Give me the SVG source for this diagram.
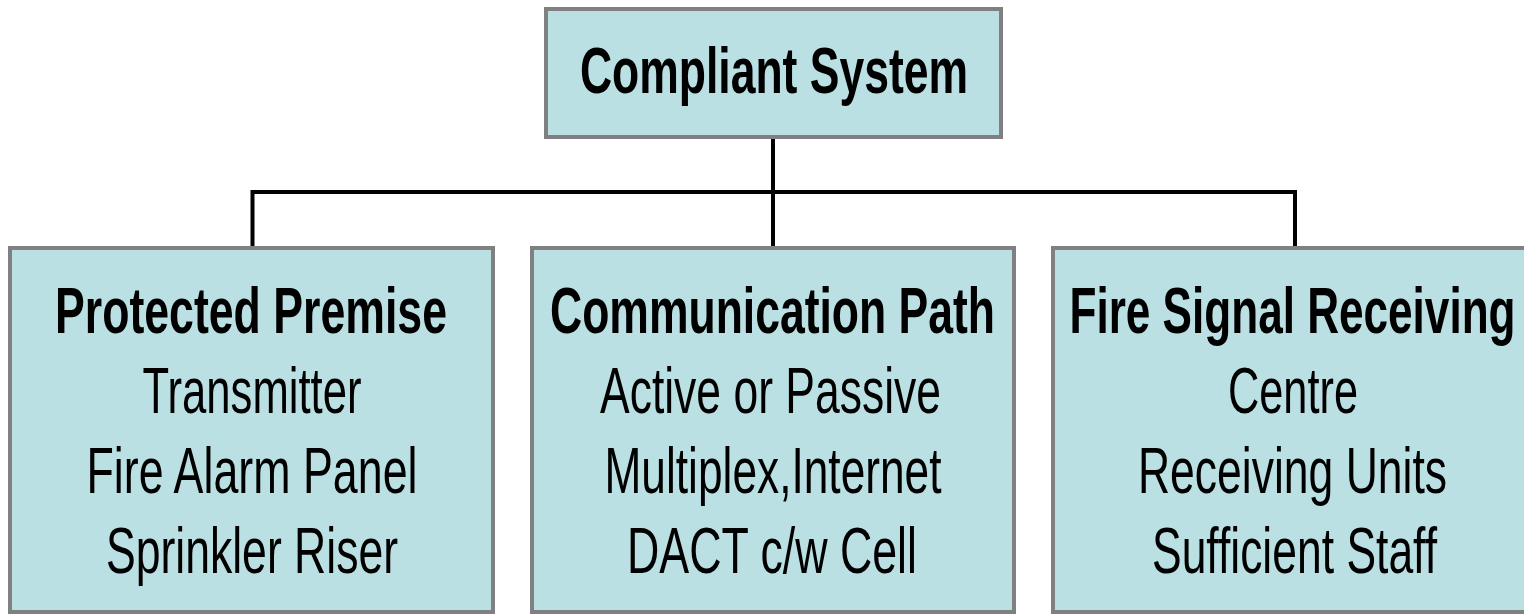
<svg xmlns="http://www.w3.org/2000/svg" width="1524" height="614" viewBox="0 0 1524 614">
<style>
.box{fill:#BAE0E3;stroke:#808080;stroke-width:4}
.t{font-family:"Liberation Sans Narrow","Liberation Sans",Arial,sans-serif;font-size:64px;fill:#000;text-anchor:middle}
.b{font-weight:bold}
.c{fill:none;stroke:#000;stroke-width:4}
</style>
<rect width="1524" height="614" fill="#fff"/>
<g id="connectors">
<path class="c" d="M773 137 V247"/>
<path class="c" d="M252.5 247 V192 H1295 V247"/>
</g>
<g id="root">
<rect class="box" x="546" y="9" width="455" height="128"/>
<text class="t b" x="774" y="93" textLength="388" lengthAdjust="spacingAndGlyphs">Compliant System</text>
</g>
<g id="premise">
<rect class="box" x="10" y="248" width="483" height="364"/>
<text class="t b" x="251" y="333" textLength="392" lengthAdjust="spacingAndGlyphs">Protected Premise</text>
<text class="t" x="252" y="413" textLength="219" lengthAdjust="spacingAndGlyphs">Transmitter</text>
<text class="t" x="252" y="493" textLength="331" lengthAdjust="spacingAndGlyphs">Fire Alarm Panel</text>
<text class="t" x="252" y="573" textLength="292" lengthAdjust="spacingAndGlyphs">Sprinkler Riser</text>
</g>
<g id="path">
<rect class="box" x="532" y="248" width="482" height="364"/>
<text class="t b" x="772.5" y="333" textLength="445" lengthAdjust="spacingAndGlyphs">Communication Path</text>
<text class="t" x="770.5" y="413" textLength="341" lengthAdjust="spacingAndGlyphs">Active or Passive</text>
<text class="t" x="773" y="493" textLength="337" lengthAdjust="spacingAndGlyphs">Multiplex,Internet</text>
<text class="t" x="772" y="573" textLength="290" lengthAdjust="spacingAndGlyphs">DACT c/w Cell</text>
</g>
<g id="receiving">
<rect class="box" x="1053" y="248" width="482" height="364"/>
<text class="t b" x="1292.5" y="333" textLength="446" lengthAdjust="spacingAndGlyphs">Fire Signal Receiving</text>
<text class="t" x="1293" y="413" textLength="130" lengthAdjust="spacingAndGlyphs">Centre</text>
<text class="t" x="1292.5" y="493" textLength="309" lengthAdjust="spacingAndGlyphs">Receiving Units</text>
<text class="t" x="1294.5" y="573" textLength="285" lengthAdjust="spacingAndGlyphs">Sufficient Staff</text>
</g>
</svg>
